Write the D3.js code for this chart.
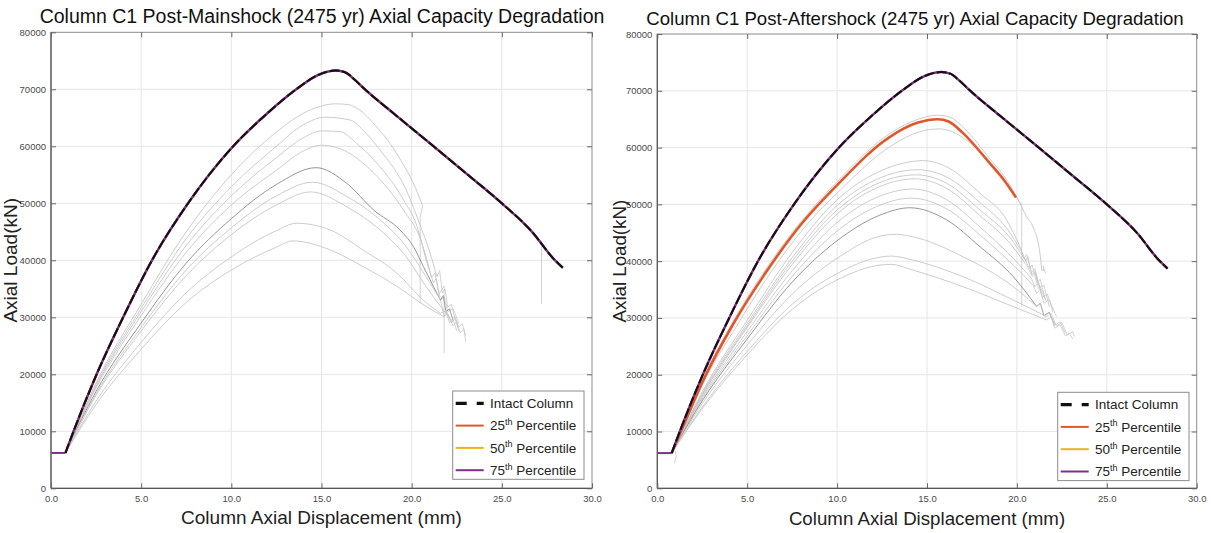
<!DOCTYPE html>
<html>
<head>
<meta charset="utf-8">
<script src="https://cdn.jsdelivr.net/npm/d3@7"></script>
<style>
  body { margin: 0; background: #fff; }
  svg { display: block; font-family: "Liberation Sans", Arial, sans-serif; }
</style>
</head>
<body>
<svg id="chart" width="1211" height="533"></svg>
<script>
// ---- axis ticks ----
const xTickValues = [0, 5, 10, 15, 20, 25, 30];
const yTickValues = [0, 10000, 20000, 30000, 40000, 50000, 60000, 70000, 80000];

// ---- shared preload plateau (mm, kN) ----
const preload = [[0, 6200], [0.8, 6200]];

// ---- intact column pushover (mm, kN) ----
const intact = [[0.8, 6200], [1.25, 10000], [2.53, 20000], [4.0, 30000], [5.6, 40000], [7.6, 50000],
  [10.1, 60000], [12.0, 65800], [13.6, 70000], [14.8, 72500], [15.8, 73300], [16.3, 73000],
  [16.8, 71800], [17.3, 70300], [19.1, 65500], [21.1, 60300], [23.0, 55300], [25.0, 50000],
  [26.7, 44900], [27.86, 40300], [28.38, 38700]];

// ---- post-mainshock percentiles (coincide with the intact response) ----
const mainP25 = intact;
const mainP50 = intact;
const mainP75 = intact;

// ---- post-mainshock runs: smooth body + jagged/softening tail ----
const mainBodies = [
  [[0.8, 6200], [2.5, 18500], [5, 32300], [7.5, 45000], [10, 55000], [12.5, 62500], [14, 65800], [15.8, 67450], [16.5, 67300], [17.1, 66400], [18.0, 63600], [18.8, 60500], [19.5, 57000], [20.1, 53500], [20.6, 49600]],
  [[0.8, 6200], [2.5, 18200], [5, 31600], [7.5, 43800], [10, 52900], [12.5, 60000], [14, 63800], [15.2, 65100], [16.6, 64600], [17.4, 62500], [18.25, 59350], [19.7, 52300], [20.5, 45900], [21.0, 41500], [21.4, 37100]],
  [[0.8, 6200], [2.5, 17900], [5, 31000], [7.5, 42600], [10, 51300], [12.5, 58000], [14, 61500], [15, 62700], [16, 62600], [16.95, 60500], [18.25, 56400], [19.55, 50600], [20.3, 45900], [20.8, 40000]],
  [[0.8, 6200], [2.5, 17600], [5, 30300], [7.5, 41400], [10, 49700], [12.5, 55800], [14, 59200], [15, 60200], [16.2, 59350], [17.9, 55300], [19.55, 48800], [20.5, 43600], [21.0, 38300]],
  [[0.8, 6200], [2.5, 17000], [5, 29000], [7.5, 39500], [10, 47300], [12.5, 53300], [14.7, 56250], [16.4, 53500], [17.9, 48800], [19.36, 45300], [20.1, 42400], [20.65, 38900], [21.4, 34200]],
  [[0.8, 6200], [2.5, 16600], [5, 28200], [7.5, 38300], [10, 45700], [12.5, 51300], [14.5, 53700], [16.4, 51200], [18.25, 47100], [19.7, 42400], [20.8, 37100], [21.6, 33000]],
  [[0.8, 6200], [2.5, 16300], [5, 27600], [7.5, 37300], [10, 44500], [12.5, 49700], [14.4, 52000], [16.4, 49400], [18.25, 45300], [19.7, 40600], [20.8, 35400], [21.6, 31900], [22.2, 29500]],
  [[0.8, 6200], [2.5, 15300], [5, 25600], [7.5, 34300], [10, 40600], [12.5, 45200], [13.6, 46500], [15.5, 45300], [17.3, 41800], [19.2, 37700], [20.65, 33000], [21.6, 30700]],
  [[0.8, 6200], [2.5, 14700], [5, 24400], [7.5, 32600], [10, 38300], [12.5, 42300], [13.4, 43400], [15.5, 41800], [17.3, 38900], [19.2, 35400], [20.8, 31900], [21.8, 30100]],
  [[0.8, 6200], [1.25, 10000], [2.53, 20000], [4.0, 30000], [5.6, 40000], [7.6, 50000], [10.1, 60000], [12.0, 65800], [13.6, 70000], [14.8, 72500], [15.8, 73300], [16.3, 73000], [16.8, 71800], [17.3, 70300], [19.1, 65500], [21.1, 60300], [23.0, 55300], [25.0, 50000], [26.7, 44900], [27.2, 43200]]
];
const mainTails = [
  [[20.47, 47500], [20.47, 32450]],
  [[21.55, 38200], [21.7, 34300], [21.85, 35000], [22.0, 31800], [22.2, 32300], [22.4, 29800]],
  [[21.1, 37000], [21.3, 37800], [21.5, 34000], [21.8, 35500], [21.8, 23700]],
  [[21.2, 36000], [21.35, 36800], [21.6, 33000], [21.8, 33600], [22.0, 31000], [22.3, 31500], [22.6, 29000]],
  [[21.6, 33000], [21.75, 33800], [21.9, 31000], [22.1, 31500], [22.3, 29400]],
  [[21.8, 30200], [21.95, 31000], [22.2, 29000], [22.4, 29800], [22.6, 27700]],
  [[22.4, 30100], [22.6, 28200], [22.8, 28900], [23.0, 26800]],
  [[21.9, 31200], [22.1, 29000], [22.3, 29600], [22.5, 27600]],
  [[22.0, 30600], [22.3, 28500], [22.5, 29200], [22.7, 27300], [22.9, 27900], [23.0, 25800]],
  [[27.2, 32400]]
];

// ---- post-aftershock percentiles ----
const afterP25 = [[0.8, 6200], [1.5, 11400], [2.6, 19300], [4.2, 28800], [6.1, 38300], [8.0, 46500],
  [10.0, 53400], [12.94, 61900], [14.5, 64400], [15.6, 65000], [16.2, 64600], [17.02, 62500],
  [18.5, 57200], [19.3, 54200], [19.95, 51200]];
const afterP50 = intact;
const afterP75 = intact;

// ---- post-aftershock runs ----
const afterBodies = [
  [[0.8, 6200], [1.5, 11600], [2.6, 19700], [4.2, 29300], [6.1, 38900], [8.0, 47000], [10.0, 54000], [12.94, 62500], [14.5, 65000], [15.6, 65700], [16.3, 65300], [17.1, 63300], [18.5, 58000], [19.5, 54000], [20.0, 51200], [20.55, 47800], [20.9, 46000], [21.28, 41400], [21.38, 38400]],
  [[0.8, 6200], [1.5, 11000], [2.7, 19400], [4.3, 28000], [6.2, 37500], [8.2, 46000], [10.2, 52600], [13.0, 60300], [14.6, 62800], [15.7, 63300], [16.4, 62800], [17.2, 61300], [18.9, 56050], [20.2, 50200]],
  [[0.8, 6200], [2.5, 17000], [5, 29600], [7.5, 41500], [10, 50800], [12.5, 56000], [14.8, 57700], [16.1, 56600], [17.95, 51950], [19.43, 47250], [20.17, 42540]],
  [[0.8, 6200], [2.5, 16700], [5, 29000], [7.5, 40600], [10, 49800], [12.5, 54800], [14.5, 56100], [16.1, 54800], [17.95, 50300], [19.43, 45800], [20.3, 41500]],
  [[0.8, 6200], [2.5, 16500], [5, 28600], [7.5, 40000], [10, 49000], [12.5, 54000], [14.4, 55200], [16.1, 53700], [17.95, 49000], [19.6, 44200], [20.5, 40000]],
  [[0.8, 6200], [2.5, 16300], [5, 28300], [7.5, 39400], [10, 48300], [12.5, 53300], [14.3, 54500], [16.1, 52800], [17.95, 48000], [19.6, 43200], [20.6, 39000]],
  [[0.8, 6200], [2.5, 16000], [5, 27600], [7.5, 38300], [10, 46800], [12.5, 51600], [14.2, 52700], [16.1, 50800], [17.95, 46000], [19.8, 40500], [20.8, 37000]],
  [[0.8, 6200], [2.5, 15700], [5, 26900], [7.5, 37300], [10, 45300], [12.5, 50000], [14.1, 51100], [16.1, 49200], [17.95, 44600], [19.8, 39300], [20.9, 35800]],
  [[0.8, 6200], [2.5, 15400], [5, 26300], [7.5, 36300], [10, 43600], [12.38, 48100], [14.05, 49400], [16.1, 47250], [17.95, 42540], [19.8, 37260], [21.1, 32000]],
  [[0.8, 6200], [2.5, 14900], [5, 25200], [7.5, 34200], [10, 40500], [12.38, 44400], [13.3, 44730], [14.2, 44300], [17.0, 40780], [19.8, 35500], [21.1, 32000]],
  [[0.8, 6200], [2.5, 14300], [5, 24100], [7.5, 32400], [10, 37800], [12.38, 40700], [13.0, 40900], [14.2, 40200], [17.0, 37260], [19.8, 33150], [21.66, 30230]],
  [[0.8, 6200], [2.5, 14000], [5, 23500], [7.5, 31500], [10, 36700], [12.38, 39300], [13.0, 39440], [14.2, 38440], [17.0, 35500], [19.8, 31980], [21.66, 29640]]
];
const afterTails = [
  [[21.5, 38400], [21.45, 39200], [21.6, 37800]],
  [[20.27, 50200], [20.27, 32000]],
  [[20.4, 40500], [20.55, 41200], [20.8, 38000], [21.0, 38700], [21.2, 36000], [21.5, 34300]],
  [[20.5, 40000], [20.6, 40800], [20.85, 37300], [21.05, 38000], [21.3, 35000], [21.6, 33300]],
  [[20.7, 38700], [20.85, 39300], [21.1, 36200], [21.3, 36800], [21.6, 33000]],
  [[20.8, 37600], [21.0, 38200], [21.2, 35200], [21.5, 35800], [21.8, 32000]],
  [[21.0, 35500], [21.2, 36200], [21.4, 33600], [21.7, 34200], [22.0, 31000]],
  [[21.1, 34300], [21.3, 35000], [21.5, 32600], [21.8, 33200], [22.2, 30200]],
  [[21.3, 32600], [21.5, 30400], [21.8, 31000], [22.1, 28800]],
  [[21.3, 32600], [21.55, 30300], [21.8, 30900], [22.1, 28700], [22.4, 29300], [22.7, 27300]],
  [[21.9, 30800], [22.2, 28600], [22.5, 29200], [22.8, 27000], [23.1, 27600], [23.2, 26700]],
  [[21.9, 30200], [22.1, 28200], [22.4, 28800], [22.7, 26800], [22.9, 27400], [23.1, 26300]]
];
const afterStub = [[0.95, 4400], [1.05, 5600], [1.0, 6600]];

// ---- legend entries ----
const legendLabels = [
  { base: "Intact Column", sup: "", rest: "" },
  { base: "25", sup: "th", rest: " Percentile" },
  { base: "50", sup: "th", rest: " Percentile" },
  { base: "75", sup: "th", rest: " Percentile" }
];

const COL25 = "#e0572a", COL50 = "#edb120", COL75 = "#7e2f8e";

const panels = [
  {
    key: "main",
    title: "Column C1 Post-Mainshock (2475 yr) Axial Capacity Degradation",
    left: 51, right: 592, top: 32.3, bottom: 488.3,
    clipLeft: 0, clipRight: 609,
    titleX: 322, titleSize: 19.5, titleY: 23, labelSize: 19, yLabelX: 17, xLabelY: 524,
    bodies: mainBodies, tails: mainTails, darkRuns: [4], extra: null,
    p25: mainP25, p50: mainP50, p75: mainP75, p25Width: 2,
    legend: { x: 452.7, y: 391, w: 131.3, h: 88.3 }
  },
  {
    key: "after",
    title: "Column C1 Post-Aftershock (2475 yr) Axial Capacity Degradation",
    left: 657.3, right: 1196.7, top: 34, bottom: 488.3,
    clipLeft: 610, clipRight: 1211,
    titleX: 915, titleSize: 18.6, titleY: 25, labelSize: 18.7, yLabelX: 626, xLabelY: 525,
    bodies: afterBodies, tails: afterTails, darkRuns: [8], extra: afterStub,
    p25: afterP25, p50: afterP50, p75: afterP75, p25Width: 2.6,
    legend: { x: 1057.7, y: 392.3, w: 131.3, h: 88.3 }
  }
];

const svg = d3.select("#chart");
const defs = svg.append("defs");

panels.forEach(p => {
  defs.append("clipPath").attr("id", "clip-" + p.key)
    .append("rect").attr("x", p.clipLeft).attr("y", 0)
    .attr("width", p.clipRight - p.clipLeft).attr("height", 533);

  const g = svg.append("g").attr("clip-path", `url(#clip-${p.key})`);

  const x = d3.scaleLinear().domain([0, 30]).range([p.left, p.right]);
  const y = d3.scaleLinear().domain([0, 80000]).range([p.bottom, p.top]);

  // grid
  const grid = g.append("g").attr("stroke", "#e6e6e6").attr("stroke-width", 1);
  grid.selectAll("line.gx").data(xTickValues.slice(1, -1)).join("line")
    .attr("x1", d => x(d)).attr("x2", d => x(d)).attr("y1", p.top).attr("y2", p.bottom);
  grid.selectAll("line.gy").data(yTickValues.slice(1, -1)).join("line")
    .attr("y1", d => y(d)).attr("y2", d => y(d)).attr("x1", p.left).attr("x2", p.right);

  const smooth = d3.line().x(d => x(d[0])).y(d => y(d[1])).curve(d3.curveMonotoneX);
  const straight = d3.line().x(d => x(d[0])).y(d => y(d[1]));

  // individual runs
  const runs = g.append("g").attr("fill", "none");
  p.bodies.forEach((body, i) => {
    const dark = p.darkRuns.includes(i);
    const stroke = dark ? "#8a8a8a" : "#c6c6c6";
    runs.append("path").attr("d", smooth(body)).attr("stroke", stroke).attr("stroke-width", 0.9);
    const tail = [body[body.length - 1]].concat(p.tails[i]);
    runs.append("path").attr("d", straight(tail)).attr("stroke", stroke).attr("stroke-width", 0.8);
  });
  if (p.extra) {
    runs.append("path").attr("d", straight(p.extra)).attr("stroke", "#c6c6c6").attr("stroke-width", 0.8);
  }

  // percentile curves
  const pc = g.append("g").attr("fill", "none");
  pc.append("path").attr("d", smooth(p.p25)).attr("stroke", COL25).attr("stroke-width", p.p25Width);
  pc.append("path").attr("d", smooth(p.p50)).attr("stroke", COL50).attr("stroke-width", 2);
  pc.append("path").attr("d", straight(preload)).attr("stroke", COL75).attr("stroke-width", 2);
  pc.append("path").attr("d", smooth(p.p75)).attr("stroke", COL75).attr("stroke-width", 2.4);
  // intact column, dashed on top
  pc.append("path").attr("d", smooth(intact)).attr("stroke", "#111")
    .attr("stroke-width", 2).attr("stroke-dasharray", "10,2.5");

  // box
  g.append("rect").attr("x", p.left).attr("y", p.top)
    .attr("width", p.right - p.left).attr("height", p.bottom - p.top)
    .attr("fill", "none").attr("stroke", "#8c8c8c").attr("stroke-width", 1);
  g.append("line").attr("x1", p.left).attr("x2", p.left).attr("y1", p.top).attr("y2", p.bottom)
    .attr("stroke", "#555").attr("stroke-width", 1.2);
  g.append("line").attr("x1", p.left).attr("x2", p.right).attr("y1", p.bottom).attr("y2", p.bottom)
    .attr("stroke", "#555").attr("stroke-width", 1.2);

  // axes
  const styleAxis = sel => {
    sel.select(".domain").remove();
    sel.selectAll(".tick line").attr("stroke", "#666");
    sel.selectAll(".tick text").attr("fill", "#4a4a4a").attr("font-size", 9.5)
      .attr("font-family", "\"Liberation Sans\", Arial, sans-serif");
  };
  g.append("g").attr("transform", `translate(0,${p.bottom})`)
    .call(d3.axisBottom(x).tickValues(xTickValues).tickFormat(d3.format(".1f")).tickSize(-5).tickPadding(7))
    .call(styleAxis);
  g.append("g").attr("transform", `translate(0,${p.top})`)
    .call(d3.axisTop(x).tickValues(xTickValues).tickFormat("").tickSize(-5))
    .call(styleAxis);
  g.append("g").attr("transform", `translate(${p.left},0)`)
    .call(d3.axisLeft(y).tickValues(yTickValues).tickFormat(d3.format("d")).tickSize(-5).tickPadding(5))
    .call(styleAxis);
  g.append("g").attr("transform", `translate(${p.right},0)`)
    .call(d3.axisRight(y).tickValues(yTickValues).tickFormat("").tickSize(-5))
    .call(styleAxis);

  // titles and axis labels
  g.append("text").attr("x", p.titleX).attr("y", p.titleY)
    .attr("text-anchor", "middle").attr("font-size", p.titleSize).attr("fill", "#111")
    .text(p.title);
  g.append("text").attr("x", (p.left + p.right) / 2).attr("y", p.xLabelY)
    .attr("text-anchor", "middle").attr("font-size", p.labelSize).attr("fill", "#222")
    .text("Column Axial Displacement (mm)");
  g.append("text").attr("transform", `translate(${p.yLabelX},${(p.top + p.bottom) / 2}) rotate(-90)`)
    .attr("text-anchor", "middle").attr("font-size", p.labelSize).attr("fill", "#222")
    .text("Axial Load(kN)");

  // legend
  const L = p.legend;
  const lg = g.append("g");
  lg.append("rect").attr("x", L.x).attr("y", L.y).attr("width", L.w).attr("height", L.h)
    .attr("fill", "#fff").attr("stroke", "#8c8c8c").attr("stroke-width", 1);
  const rowY = i => L.y + 12.3 + i * 22.3;
  const swatch = [
    { stroke: "#111", width: 3.2, dash: "11,10" },
    { stroke: COL25, width: 2, dash: null },
    { stroke: COL50, width: 2, dash: null },
    { stroke: COL75, width: 2, dash: null }
  ];
  legendLabels.forEach((lab, i) => {
    const s = swatch[i];
    lg.append("line").attr("x1", L.x + 3).attr("x2", L.x + 31)
      .attr("y1", rowY(i)).attr("y2", rowY(i))
      .attr("stroke", s.stroke).attr("stroke-width", s.width)
      .attr("stroke-dasharray", s.dash);
    const t = lg.append("text").attr("x", L.x + 37.3).attr("y", rowY(i) + 4.8)
      .attr("font-size", 13.5).attr("fill", "#222");
    t.append("tspan").text(lab.base);
    if (lab.sup) {
      t.append("tspan").attr("dy", -5.5).attr("font-size", 9).text(lab.sup);
      t.append("tspan").attr("dy", 5.5).text(lab.rest);
    }
  });
});
</script>
</body>
</html>
